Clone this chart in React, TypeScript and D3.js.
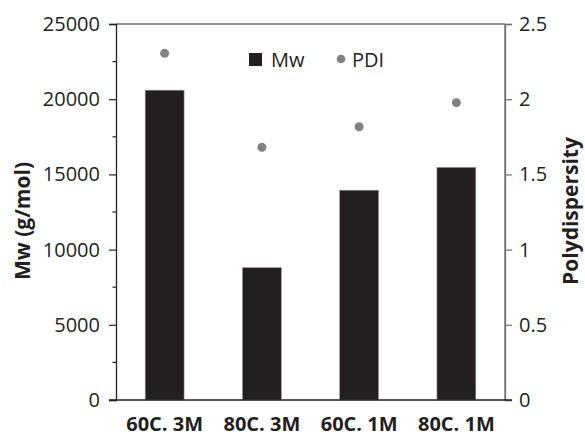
import React, { useEffect, useRef } from 'react';
import * as d3 from 'd3';

const categories = ['60C. 3M', '80C. 3M', '60C. 1M', '80C. 1M'];
const mwValues = [20600, 8800, 13950, 15470];
const pdiValues = [2.305, 1.68, 1.817, 1.977];
const mwTicks = [0, 5000, 10000, 15000, 20000, 25000];
const mwMinorTicks = [2500, 7500, 12500, 17500, 22500];
const pdiTicks = [0, 0.5, 1, 1.5, 2, 2.5];

const W = 585;
const H = 437;
const FONT = '"Open Sans", "DejaVu Sans", sans-serif';
const INK = '#231f20';

export default function App() {
  const svgRef = useRef<SVGSVGElement>(null);

  useEffect(() => {
    const svg = d3.select(svgRef.current);
    svg.selectAll('*').remove();

    const left = 116, right = 505, top = 24, bottom = 400;

    const x = d3.scaleBand().domain(categories).range([left, right])
      .paddingInner(0.6).paddingOuter(0.3);
    const yMw = d3.scaleLinear().domain([0, 25000]).range([bottom, top]);
    const yPdi = d3.scaleLinear().domain([0, 2.5]).range([bottom, top]);

    // bars
    svg.append('g').selectAll('rect')
      .data(categories)
      .enter().append('rect')
      .attr('x', d => x(d)!)
      .attr('y', (d, i) => yMw(mwValues[i]))
      .attr('width', x.bandwidth())
      .attr('height', (d, i) => bottom - yMw(mwValues[i]))
      .attr('fill', INK)
      .attr('stroke', '#9a9a9a')
      .attr('stroke-width', 0.6);

    // PDI points
    svg.append('g').selectAll('circle')
      .data(categories)
      .enter().append('circle')
      .attr('cx', d => x(d)! + x.bandwidth() / 2)
      .attr('cy', (d, i) => yPdi(pdiValues[i]))
      .attr('r', 4.5)
      .attr('fill', '#808285');

    // frame lines
    svg.append('line').attr('x1', left).attr('x2', right).attr('y1', top).attr('y2', top)
      .attr('stroke', '#6d6e71').attr('stroke-width', 1.3);
    svg.append('line').attr('x1', right).attr('x2', right).attr('y1', top).attr('y2', bottom)
      .attr('stroke', '#6d6e71').attr('stroke-width', 1.3);

    // left axis
    const gl = svg.append('g').attr('transform', `translate(${left},0)`);
    gl.call(d3.axisLeft(yMw).tickValues(mwTicks).tickSize(7).tickPadding(9).tickFormat(d3.format('d')));
    gl.select('.domain').attr('stroke', INK).attr('stroke-width', 1.3);
    gl.selectAll('.tick line').attr('stroke', INK).attr('stroke-width', 1.2);
    gl.selectAll('.tick text').attr('fill', INK).style('font-family', FONT).style('font-size', '20px');
    gl.selectAll('.minor')
      .data(mwMinorTicks)
      .enter().append('line')
      .attr('class', 'minor')
      .attr('x1', -3.5).attr('x2', 0)
      .attr('y1', d => yMw(d)).attr('y2', d => yMw(d))
      .attr('stroke', INK).attr('stroke-width', 1.2);

    // right axis
    const gr = svg.append('g').attr('transform', `translate(${right},0)`);
    gr.call(d3.axisRight(yPdi).tickValues(pdiTicks).tickSize(7).tickPadding(7).tickFormat(d3.format('')));
    gr.select('.domain').attr('stroke', '#6d6e71').attr('stroke-width', 1.3);
    gr.selectAll('.tick line').attr('stroke', '#6d6e71').attr('stroke-width', 1.2);
    gr.selectAll('.tick text').attr('fill', INK).style('font-family', FONT).style('font-size', '20px');

    // bottom axis
    const gb = svg.append('g').attr('transform', `translate(0,${bottom})`);
    gb.call(d3.axisBottom(x).tickSize(0).tickPadding(17));
    gb.select('.domain').attr('stroke', INK).attr('stroke-width', 1.3)
      .attr('d', `M${left - 7},0H${right + 7}`);
    gb.selectAll('.tick text').attr('fill', INK).style('font-family', FONT)
      .style('font-size', '20px').style('font-weight', 'bold');

    // axis titles
    svg.append('text')
      .attr('transform', `translate(30,221) rotate(-90)`)
      .attr('text-anchor', 'middle')
      .attr('fill', INK)
      .style('font-family', FONT).style('font-size', '21px').style('font-weight', 'bold')
      .text('Mw (g/mol)');
    svg.append('text')
      .attr('transform', `translate(578,211) rotate(-90)`)
      .attr('text-anchor', 'middle')
      .attr('fill', INK)
      .style('font-family', FONT).style('font-size', '21px').style('font-weight', 'bold')
      .text('Polydispersity');

    // legend
    const lg = svg.append('g');
    lg.append('rect').attr('x', 249).attr('y', 53).attr('width', 13).attr('height', 13).attr('fill', INK);
    lg.append('text').attr('x', 271).attr('y', 67).attr('fill', INK)
      .style('font-family', FONT).style('font-size', '20px').text('Mw');
    lg.append('circle').attr('cx', 341).attr('cy', 59).attr('r', 4.3).attr('fill', '#808285');
    lg.append('text').attr('x', 352).attr('y', 67).attr('fill', INK)
      .style('font-family', FONT).style('font-size', '20px').text('PDI');
  }, []);

  return (
    <svg
      ref={svgRef}
      width={W}
      height={H}
      style={{ position: 'absolute', left: 0, top: 0, background: '#fff' }}
    />
  );
}
